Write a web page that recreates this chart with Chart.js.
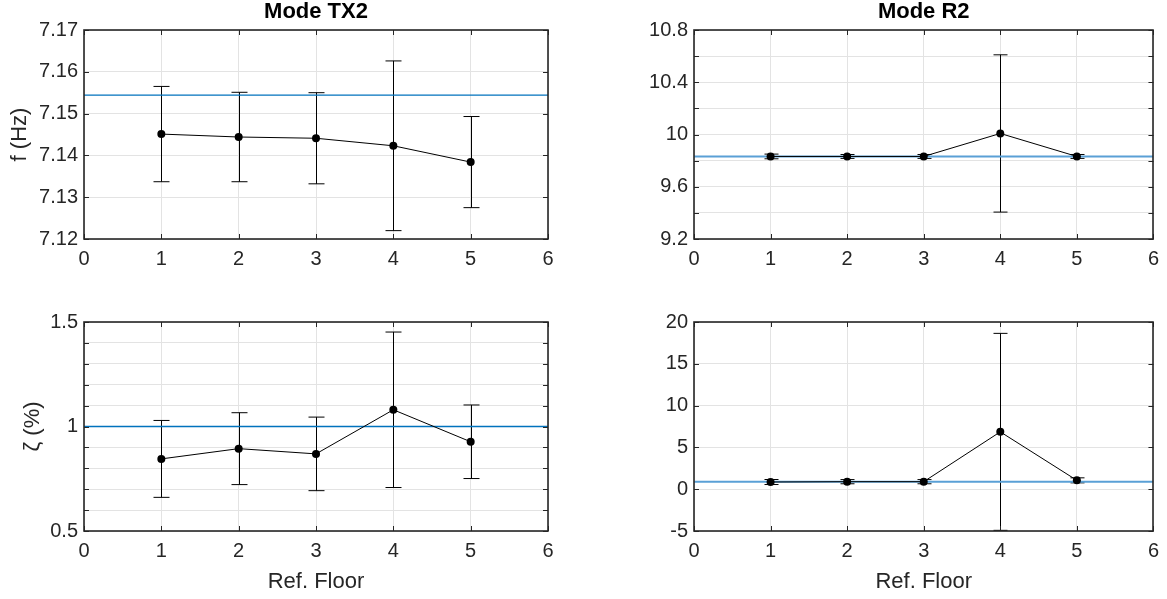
<!DOCTYPE html>
<html lang="en">
<head>
<meta charset="UTF-8">
<title>Mode TX2 / Mode R2</title>
<script src="https://cdn.jsdelivr.net/npm/chart.js"></script>
<style>
    body { margin: 0; background: #fff; }
    #wrap { position: relative; width: 1167px; height: 599px; overflow: hidden; }
    canvas { position: absolute; }
</style>
</head>
<body>
<div id="wrap">
    <canvas id="tx2Freq" width="583" height="290" style="left:0;top:0;width:583px;height:290px"></canvas>
    <canvas id="r2Freq" width="584" height="290" style="left:583px;top:0;width:584px;height:290px"></canvas>
    <canvas id="tx2Damp" width="583" height="309" style="left:0;top:290px;width:583px;height:309px"></canvas>
    <canvas id="r2Damp" width="584" height="309" style="left:583px;top:290px;width:584px;height:309px"></canvas>
</div>
<script>
// data
const floors = [1, 2, 3, 4, 5];
const xTicks = [0, 6];

const tx2FreqMean = [7.1451, 7.1444, 7.1441, 7.1423, 7.1384];
const tx2FreqStd  = [0.0114, 0.0107, 0.0109, 0.0203, 0.0109];
const tx2FreqRef  = 7.1544;

const r2FreqMean = [9.832, 9.832, 9.832, 10.008, 9.832];
const r2FreqStd  = [0.018, 0.015, 0.015, 0.602, 0.015];
const r2FreqRef  = 9.832;

const tx2DampMean = [0.845, 0.894, 0.869, 1.080, 0.927];
const tx2DampStd  = [0.184, 0.172, 0.176, 0.372, 0.176];
const tx2DampRef  = 1.0;

const r2DampMean = [0.86, 0.90, 0.90, 6.86, 1.06];
const r2DampStd  = [0.30, 0.25, 0.25, 11.78, 0.30];
const r2DampRef  = 0.9;

const FONT = "'Liberation Sans', Arial, Helvetica, sans-serif";
const AXIS = '#262626';
const GRID = '#e3e3e3';

// error bars, drawn through the chart's scales
const errorBars = {
    id: 'errorBars',
    beforeDatasetsDraw(chart, args, o) {
        if (!o.mean) return;
        const xs = chart.scales.x, ys = chart.scales.y;
        const ctx = chart.ctx;
        ctx.save();
        ctx.strokeStyle = '#000';
        ctx.lineWidth = 1;
        floors.forEach((f, i) => {
            const x = Math.round(xs.getPixelForValue(f)) + 0.5;
            const y1 = ys.getPixelForValue(o.mean[i] + o.std[i]);
            const y2 = ys.getPixelForValue(o.mean[i] - o.std[i]);
            ctx.beginPath();
            ctx.moveTo(x, y1); ctx.lineTo(x, y2);
            ctx.moveTo(x - o.cap, y1); ctx.lineTo(x + o.cap, y1);
            ctx.moveTo(x - o.cap, y2); ctx.lineTo(x + o.cap, y2);
            ctx.stroke();
        });
        ctx.restore();
    }
};

// axes box with inward tick marks (matlab style)
const axesBox = {
    id: 'axesBox',
    afterDraw(chart) {
        const a = chart.chartArea, ctx = chart.ctx;
        const tl = 5;
        ctx.save();
        ctx.strokeStyle = AXIS;
        ctx.lineWidth = 1;
        ctx.beginPath();
        chart.scales.y.ticks.forEach(t => {
            const y = Math.round(chart.scales.y.getPixelForValue(t.value)) + 0.5;
            ctx.moveTo(a.left, y); ctx.lineTo(a.left + tl, y);
            ctx.moveTo(a.right, y); ctx.lineTo(a.right - tl, y);
        });
        chart.scales.x.ticks.forEach(t => {
            const x = Math.round(chart.scales.x.getPixelForValue(t.value)) + 0.5;
            ctx.moveTo(x, a.top); ctx.lineTo(x, a.top + tl);
            ctx.moveTo(x, a.bottom); ctx.lineTo(x, a.bottom - tl);
        });
        ctx.stroke();
        ctx.lineWidth = 1.6;
        ctx.strokeRect(Math.round(a.left), Math.round(a.top),
            Math.round(a.right) - Math.round(a.left), Math.round(a.bottom) - Math.round(a.top));
        ctx.restore();
    }
};

function makeChart(id, c) {
    const fmt = v => String(parseFloat(v.toFixed(3)));
    new Chart(document.getElementById(id), {
        type: 'line',
        data: {
            datasets: [
                {
                    data: floors.map((f, i) => ({ x: f, y: c.mean[i] })),
                    borderColor: '#000',
                    borderWidth: 1,
                    backgroundColor: '#000',
                    pointRadius: 4,
                    pointBorderWidth: 0,
                    tension: 0
                },
                {
                    data: xTicks.map(x => ({ x: x, y: c.ref })),
                    borderColor: c.refColor,
                    borderWidth: c.refWidth,
                    pointRadius: 0,
                    tension: 0
                }
            ]
        },
        plugins: [errorBars, axesBox],
        options: {
            responsive: false,
            devicePixelRatio: 1,
            animation: false,
            events: [],
            layout: { padding: c.pad },
            plugins: {
                legend: { display: false },
                tooltip: { enabled: false },
                title: {
                    display: !!c.title,
                    text: c.title,
                    fullSize: false,
                    color: '#000',
                    font: { family: FONT, size: 22, weight: 'bold', lineHeight: 1.1 },
                    padding: { top: 0, bottom: 5.8 }
                },
                errorBars: { mean: c.mean, std: c.std, cap: c.cap }
            },
            scales: {
                x: {
                    type: 'linear',
                    min: 0,
                    max: 6,
                    afterFit: s => { s.height = c.xHeight; },
                    grid: { color: GRID, drawTicks: false },
                    border: { display: false },
                    ticks: { stepSize: 1, autoSkip: false, padding: 8, color: AXIS, font: { family: FONT, size: 20 } },
                    title: {
                        display: !!c.xTitle,
                        text: c.xTitle,
                        color: AXIS,
                        font: { family: FONT, size: 22 },
                        padding: { top: 0, bottom: 0 }
                    }
                },
                y: {
                    min: c.yMin,
                    max: c.yMax,
                    afterFit: s => { s.width = c.yWidth; },
                    grid: { color: GRID, drawTicks: false },
                    border: { display: false },
                    ticks: {
                        stepSize: c.yStep,
                        autoSkip: false,
                        padding: 6,
                        color: AXIS,
                        font: { family: FONT, size: 20 },
                        callback: v => {
                            const k = (v - c.yMin) / c.labelEvery;
                            return Math.abs(k - Math.round(k)) < 1e-6 ? fmt(v) : '';
                        }
                    },
                    title: {
                        display: !!c.yTitle,
                        text: c.yTitle,
                        color: AXIS,
                        font: { family: FONT, size: 22 },
                        padding: { top: c.yTitlePad, bottom: 0 }
                    }
                }
            }
        }
    });
}

makeChart('tx2Freq', {
    title: 'Mode TX2', yTitle: 'f (Hz)', yTitlePad: 7,
    mean: tx2FreqMean, std: tx2FreqStd, ref: tx2FreqRef,
    refColor: '#0072BD', refWidth: 1.3, cap: 8,
    yMin: 7.12, yMax: 7.17, yStep: 0.01, labelEvery: 0.01,
    yWidth: 84, xHeight: 40, pad: { left: 0, right: 35, top: 0, bottom: 11 }
});

makeChart('r2Freq', {
    title: 'Mode R2',
    mean: r2FreqMean, std: r2FreqStd, ref: r2FreqRef,
    refColor: '#5AA0D6', refWidth: 2, cap: 7,
    yMin: 9.2, yMax: 10.8, yStep: 0.2, labelEvery: 0.4,
    yWidth: 111, xHeight: 40, pad: { left: 0, right: 9, top: 0, bottom: 11 }
});

makeChart('tx2Damp', {
    yTitle: 'ζ (%)', yTitlePad: 20, xTitle: 'Ref. Floor',
    mean: tx2DampMean, std: tx2DampStd, ref: tx2DampRef,
    refColor: '#0072BD', refWidth: 1.3, cap: 8,
    yMin: 0.5, yMax: 1.5, yStep: 0.1, labelEvery: 0.5,
    yWidth: 84, xHeight: 64, pad: { left: 0, right: 35, top: 32, bottom: 4 }
});

makeChart('r2Damp', {
    xTitle: 'Ref. Floor',
    mean: r2DampMean, std: r2DampStd, ref: r2DampRef,
    refColor: '#5AA0D6', refWidth: 2, cap: 7,
    yMin: -5, yMax: 20, yStep: 5, labelEvery: 5,
    yWidth: 111, xHeight: 64, pad: { left: 0, right: 9, top: 32, bottom: 4 }
});
</script>
</body>
</html>
